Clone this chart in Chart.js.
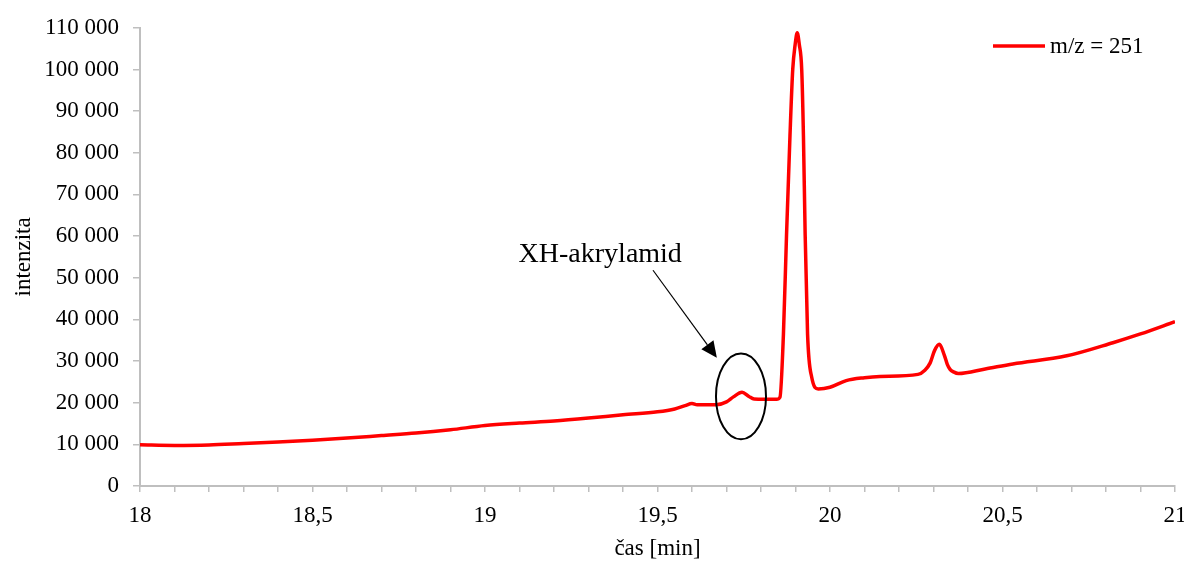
<!DOCTYPE html>
<html>
<head>
<meta charset="utf-8">
<script src="https://cdn.jsdelivr.net/npm/chart.js@4.4.1/dist/chart.umd.min.js"></script>
<style>
html,body{margin:0;padding:0;background:#fff;}
#wrap{width:1184px;height:563px;position:relative;}
</style>
</head>
<body>
<div id="wrap"><canvas id="c" width="1184" height="563"></canvas></div>
<script>
// time [min]
const times = [18.0, 18.1, 18.2, 18.3, 18.4, 18.5, 18.6, 18.7, 18.8, 18.9, 19.0, 19.1, 19.2, 19.3, 19.4, 19.5, 19.55, 19.58, 19.6, 19.615, 19.67, 19.7, 19.72, 19.745, 19.765, 19.78, 19.845, 19.855, 19.865, 19.874, 19.884, 19.892, 19.899, 19.905, 19.911, 19.918, 19.923, 19.928, 19.935, 19.947, 19.966, 20.0, 20.047, 20.1, 20.145, 20.255, 20.275, 20.29, 20.303, 20.317, 20.331, 20.34, 20.348, 20.358, 20.372, 20.45, 20.53, 20.686, 20.82, 20.9, 21.0];
// intensity
const intensity = [9900, 9750, 9850, 10200, 10550, 11000, 11500, 12100, 12700, 13500, 14500, 15100, 15600, 16300, 17100, 17800, 18500, 19300, 19800, 19500, 19500, 20200, 21400, 22500, 21500, 20900, 20800, 21300, 36400, 60300, 84100, 100000, 106000, 108800, 106000, 100000, 84100, 60300, 36400, 26100, 23300, 23700, 25300, 26000, 26300, 26800, 27800, 29500, 32500, 34000, 31500, 29200, 28000, 27400, 27000, 28100, 29300, 31250, 34400, 36500, 39450];
const seriesLabel = 'm/z = 251';
const xTitle = 'čas [min]';
const yTitle = 'intenzita';
const annotationText = 'XH-akrylamid';
// annotation anchors in data units
const annoTextPos = [19.334, 55600];
const arrowFrom = [19.487, 51800];
const arrowTo = [19.672, 30800];
const ellipseCenter = [19.742, 21500];
const ellipseRadii = [0.0725, 10300];

const FONT = '"Liberation Serif", "Times New Roman", serif';
const AXIS_GREY = '#bfbfbf';

const pts = times.map((t, i) => ({x: t, y: intensity[i]}));

const extras = {
  id: 'extras',
  afterDatasetsDraw(chart) {
    const ctx = chart.ctx;
    const xs = chart.scales.x, ys = chart.scales.y;
    const px = v => xs.getPixelForValue(v), py = v => ys.getPixelForValue(v);
    ctx.save();
    // annotation text
    ctx.fillStyle = '#000';
    ctx.font = '28px ' + FONT;
    ctx.textAlign = 'center';
    ctx.textBaseline = 'middle';
    ctx.fillText(annotationText, px(annoTextPos[0]), py(annoTextPos[1]));
    // arrow
    const x1 = px(arrowFrom[0]), y1 = py(arrowFrom[1]);
    const x2 = px(arrowTo[0]), y2 = py(arrowTo[1]);
    const ang = Math.atan2(y2 - y1, x2 - x1);
    const headLen = 16, headW = 7.5;
    const bx = x2 - headLen * Math.cos(ang), by = y2 - headLen * Math.sin(ang);
    ctx.strokeStyle = '#000';
    ctx.lineWidth = 1.2;
    ctx.beginPath();
    ctx.moveTo(x1, y1);
    ctx.lineTo(bx, by);
    ctx.stroke();
    ctx.beginPath();
    ctx.moveTo(x2, y2);
    ctx.lineTo(bx + headW * Math.sin(ang), by - headW * Math.cos(ang));
    ctx.lineTo(bx - headW * Math.sin(ang), by + headW * Math.cos(ang));
    ctx.closePath();
    ctx.fillStyle = '#000';
    ctx.fill();
    // ellipse
    const cx = px(ellipseCenter[0]), cy = py(ellipseCenter[1]);
    const rx = px(ellipseCenter[0] + ellipseRadii[0]) - cx;
    const ry = cy - py(ellipseCenter[1] + ellipseRadii[1]);
    ctx.lineWidth = 2;
    ctx.beginPath();
    ctx.ellipse(cx, cy, rx, ry, 0, 0, Math.PI * 2);
    ctx.stroke();
    // legend
    ctx.strokeStyle = '#ff0000';
    ctx.lineWidth = 3.5;
    ctx.beginPath();
    ctx.moveTo(993, 46);
    ctx.lineTo(1045, 46);
    ctx.stroke();
    ctx.fillStyle = '#000';
    ctx.font = '23px ' + FONT;
    ctx.textAlign = 'left';
    ctx.textBaseline = 'middle';
    ctx.fillText(seriesLabel, 1050, 47);
    ctx.restore();
  }
};

new Chart(document.getElementById('c'), {
  type: 'line',
  data: {
    datasets: [{
      label: seriesLabel,
      data: pts,
      borderColor: '#ff0000',
      borderWidth: 3.5,
      pointRadius: 0,
      cubicInterpolationMode: 'monotone',
      fill: false
    }]
  },
  options: {
    responsive: false,
    animation: false,
    layout: {padding: {top: 23, right: 0, left: 0, bottom: 0}},
    plugins: {legend: {display: false}, tooltip: {enabled: false}},
    scales: {
      x: {
        type: 'linear',
        min: 18, max: 21,
        afterBuildTicks(scale) {
          const t = [];
          for (let i = 0; i <= 30; i++) t.push({value: 18 + i / 10});
          scale.ticks = t;
        },
        afterFit(scale) { scale.height = 77; scale.paddingRight = 9; scale.paddingLeft = 0; },
        ticks: {
          autoSkip: false,
          maxRotation: 0,
          padding: 10,
          color: '#000',
          font: {family: FONT, size: 23},
          callback(v) {
            if (Math.abs(v * 2 - Math.round(v * 2)) > 1e-6) return '';
            return String(Math.round(v * 10) / 10).replace('.', ',');
          }
        },
        grid: {drawOnChartArea: false, drawTicks: true, tickLength: 6, color: AXIS_GREY, lineWidth: 1.5},
        border: {color: AXIS_GREY, width: 2},
        title: {display: true, text: xTitle, color: '#000', font: {family: FONT, size: 23}, padding: {top: 0, bottom: 0}}
      },
      y: {
        min: 0, max: 110000,
        afterFit(scale) { scale.width = 140; },
        ticks: {
          stepSize: 10000,
          padding: 14,
          color: '#000',
          font: {family: FONT, size: 23},
          callback(v) { return String(v).replace(/\B(?=(\d{3})+(?!\d))/g, ' '); }
        },
        grid: {drawOnChartArea: false, drawTicks: true, tickLength: 7, color: AXIS_GREY, lineWidth: 1.5},
        border: {color: AXIS_GREY, width: 2},
        title: {display: true, text: yTitle, color: '#000', font: {family: FONT, size: 23}, padding: {top: 10, bottom: 0}}
      }
    }
  },
  plugins: [extras]
});
</script>
</body>
</html>
